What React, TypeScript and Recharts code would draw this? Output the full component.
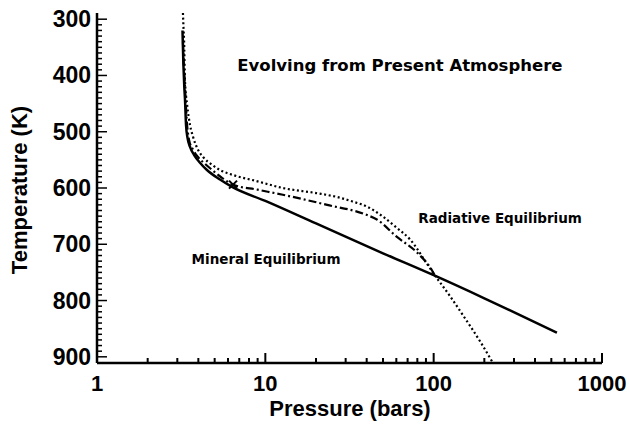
import React from "react";
import { ComposedChart, Line, Scatter, XAxis, YAxis, ReferenceDot } from "recharts";

document.body.style.margin = "0";

// pressure (bars) vs temperature (K)
const mineralP = [3.22, 3.26, 3.3, 3.333, 3.38, 3.45, 3.57, 3.77, 4.09, 4.5, 5.38, 6.34, 10, 20, 50, 100, 200, 540];
const mineralT = [320, 380, 420, 443, 488, 511, 527, 541, 555, 568, 585, 598, 623, 663, 716, 755, 796, 857];

const radiativeP = [3.24, 3.27, 3.29, 3.33, 3.43, 3.57, 3.72, 3.98, 4.27, 4.83, 5.38, 6.61, 8.69, 12.7, 20, 26.7, 33, 40.2, 50, 60, 72.7, 91.4, 101, 125, 150, 190, 222];
const radiativeT = [289, 320, 337, 408, 452, 488, 509, 532, 545, 559, 568, 578, 587, 600, 609, 616, 624, 633, 651, 670, 692, 735, 754, 792, 827, 874, 908];

const evolvingP = [3.24, 3.28, 3.32, 3.36, 3.43, 3.52, 3.72, 3.98, 4.38, 4.83, 5.53, 6.43, 9, 12.7, 23.3, 40.2, 46, 60.5, 79.9, 98, 101];
const evolvingT = [340, 380, 410, 443, 488, 514, 532, 545, 557, 568, 582, 594, 603, 612, 630, 648, 656, 687, 715, 747, 754];

const markerP = [6.43];
const markerT = [594];

const xTicks = [1, 2, 3, 4, 5, 6, 7, 8, 9, 10, 20, 30, 40, 50, 60, 70, 80, 90, 100, 200, 300, 400, 500, 600, 700, 800, 900, 1000];
const xMajor = [1, 10, 100, 1000];
const yTicks: number[] = [];
for (let t = 300; t <= 900; t += 10) yTicks.push(t);
const yMajor = [300, 400, 500, 600, 700, 800, 900];

const toRows = (ps: number[], ts: number[]) => ps.map((p, i) => ({ p, t: ts[i] }));
const mineral = toRows(mineralP, mineralT);
const radiative = toRows(radiativeP, radiativeT);
const evolving = toRows(evolvingP, evolvingT);
const marker = toRows(markerP, markerT);

const FONT = "'Liberation Sans', Arial, sans-serif";
const NOTE_FONT = "'DejaVu Sans', sans-serif";

function BottomTick(props: any) {
  const { x, y, payload } = props;
  const major = xMajor.includes(payload.value);
  return (
    <g>
      <line x1={x} y1={y} x2={x} y2={y - (major ? 10 : 5)} stroke="#000" strokeWidth={2} />
      {major && (
        <text x={x} y={y + 28} textAnchor="middle" fontFamily={FONT} fontWeight="bold" fontSize={22} fill="#000">
          {payload.value}
        </text>
      )}
    </g>
  );
}

function TopTick(props: any) {
  const { x, y, payload } = props;
  const major = xMajor.includes(payload.value);
  return <line x1={x} y1={y} x2={x} y2={y + (major ? 10 : 5)} stroke="#000" strokeWidth={2} />;
}

function LeftTick(props: any) {
  const { x, y, payload } = props;
  const major = yMajor.includes(payload.value);
  return (
    <g>
      <line x1={x} y1={y} x2={x + (major ? 10 : 5)} y2={y} stroke="#000" strokeWidth={1.5} />
      {major && (
        <text x={x - 6} y={y + 8} textAnchor="end" fontFamily={FONT} fontWeight="bold" fontSize={23} fill="#000">
          {payload.value}
        </text>
      )}
    </g>
  );
}

function RightTick(props: any) {
  const { x, y, payload } = props;
  const major = yMajor.includes(payload.value);
  return <line x1={x} y1={y} x2={x - (major ? 10 : 5)} y2={y} stroke="#000" strokeWidth={1.5} />;
}

function Cross(props: any) {
  const { cx, cy } = props;
  const s = 4;
  return (
    <g stroke="#000" strokeWidth={2}>
      <line x1={cx - s} y1={cy - s} x2={cx + s} y2={cy + s} />
      <line x1={cx - s} y1={cy + s} x2={cx + s} y2={cy - s} />
    </g>
  );
}

const noteStyle = { fontFamily: NOTE_FONT, fontWeight: "bold" as const, fontSize: 13.5, fill: "#000" };

export default function App() {
  return (
    <div style={{ position: "relative", width: 630, height: 429, background: "#fff" }}>
      <ComposedChart width={630} height={429} margin={{ top: 13, right: 28, bottom: 0, left: 0 }}>
        <XAxis
          xAxisId="bottom"
          dataKey="p"
          type="number"
          scale="log"
          domain={[1, 1000]}
          allowDataOverflow
          ticks={xTicks}
          interval={0}
          height={66}
          tickSize={0}
          tickMargin={0}
          tickLine={false}
          axisLine={{ stroke: "#000", strokeWidth: 2.5 }}
          tick={<BottomTick />}
        />
        <XAxis
          xAxisId="top"
          orientation="top"
          dataKey="p"
          type="number"
          scale="log"
          domain={[1, 1000]}
          allowDataOverflow
          ticks={xTicks}
          interval={0}
          height={0}
          tickSize={0}
          tickMargin={0}
          tickLine={false}
          axisLine={{ stroke: "#000", strokeWidth: 2.5 }}
          tick={<TopTick />}
        />
        <YAxis
          yAxisId="left"
          dataKey="t"
          type="number"
          reversed
          domain={[289, 911]}
          allowDataOverflow
          ticks={yTicks}
          interval={0}
          width={97}
          tickSize={0}
          tickMargin={0}
          tickLine={false}
          axisLine={{ stroke: "#000", strokeWidth: 2.5 }}
          tick={<LeftTick />}
        />
        <YAxis
          yAxisId="right"
          orientation="right"
          dataKey="t"
          type="number"
          reversed
          domain={[289, 911]}
          allowDataOverflow
          ticks={yTicks}
          interval={0}
          width={0}
          tickSize={0}
          tickMargin={0}
          tickLine={false}
          axisLine={{ stroke: "#000", strokeWidth: 2.5 }}
          tick={<RightTick />}
        />
        <Line xAxisId="bottom" yAxisId="left" data={mineral} dataKey="t" type="monotone" stroke="#000" strokeWidth={2.5} dot={false} isAnimationActive={false} />
        <Line xAxisId="bottom" yAxisId="left" data={radiative} dataKey="t" type="monotone" stroke="#000" strokeWidth={2.2} strokeDasharray="2 2.6" dot={false} isAnimationActive={false} />
        <Line xAxisId="bottom" yAxisId="left" data={evolving} dataKey="t" type="monotone" stroke="#000" strokeWidth={2.2} strokeDasharray="8 3 2 3" dot={false} isAnimationActive={false} />
        <Scatter xAxisId="bottom" yAxisId="left" data={marker} dataKey="t" shape={<Cross />} isAnimationActive={false} />
        <ReferenceDot xAxisId="bottom" yAxisId="left" x={63} y={381} r={0} ifOverflow="visible"
          label={{ value: "Evolving from Present Atmosphere", position: "center", style: { ...noteStyle, fontSize: 16.5 } }} />
        <ReferenceDot xAxisId="bottom" yAxisId="left" x={248} y={653} r={0} ifOverflow="visible"
          label={{ value: "Radiative Equilibrium", position: "center", style: noteStyle }} />
        <ReferenceDot xAxisId="bottom" yAxisId="left" x={10.1} y={726} r={0} ifOverflow="visible"
          label={{ value: "Mineral Equilibrium", position: "center", style: noteStyle }} />
      </ComposedChart>
      <div style={{ position: "absolute", left: 0, width: 630, top: 396, textAlign: "center", paddingLeft: 70, boxSizing: "border-box", fontFamily: FONT, fontWeight: "bold", fontSize: 22, lineHeight: "26px" }}>
        Pressure (bars)
      </div>
      <div style={{ position: "absolute", left: 20, top: 190, width: 0, height: 0 }}>
        <div style={{ position: "absolute", transform: "translate(-50%, -50%) rotate(-90deg)", whiteSpace: "nowrap", fontFamily: FONT, fontWeight: "bold", fontSize: 22, lineHeight: "26px" }}>
          Temperature (K)
        </div>
      </div>
    </div>
  );
}
